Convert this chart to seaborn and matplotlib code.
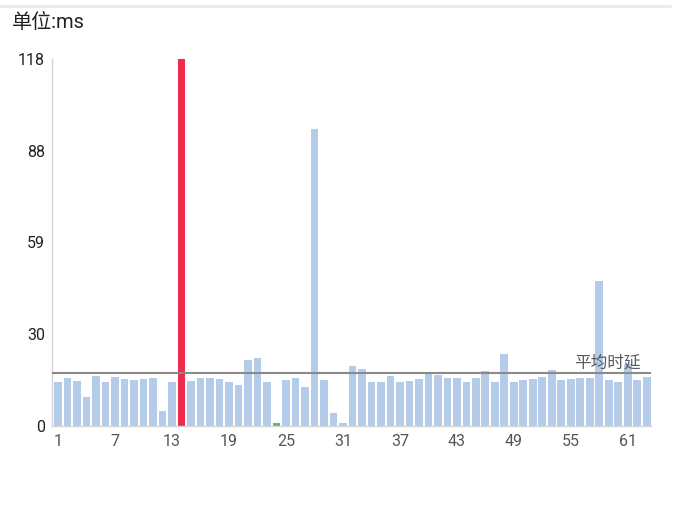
import matplotlib
matplotlib.use('Agg')
import matplotlib.pyplot as plt
from matplotlib.lines import Line2D
import seaborn as sns

# latency per request, ms
latency = [14.2, 15.5, 14.6, 9.4, 16.0, 14.2, 15.8, 15.1, 14.8, 15.1,
           15.5, 4.8, 14.2, 118.0, 14.4, 15.5, 15.3, 15.0, 14.2, 13.3,
           21.1, 21.8, 14.2, 1.0, 14.9, 15.5, 12.6, 95.5, 14.9, 4.2,
           1.1, 19.3, 18.2, 14.2, 14.2, 16.2, 14.0, 14.6, 15.2, 16.7,
           16.4, 15.5, 15.5, 14.2, 15.5, 17.7, 14.2, 23.0, 14.2, 14.8,
           15.1, 15.6, 17.9, 14.8, 15.1, 15.4, 15.5, 46.7, 14.8, 14.2,
           19.8, 14.8, 15.8]
requests = [str(i + 1) for i in range(len(latency))]
avg_latency = 16.9
y_ticks = [0, 29.5, 59, 88.5, 118]
y_labels = ['0', '30', '59', '88', '118']
x_labels = ['1', '7', '13', '19', '25', '31', '37', '43', '49', '55', '61']

BLUE = '#B4CCEA'
RED = '#EE2C4C'
GREEN = '#4CC46C'

vmax = max(latency)
vmin = min(latency)
palette = {}
for r, v in zip(requests, latency):
    if v == vmax:
        palette[r] = RED
    elif v == vmin:
        palette[r] = GREEN
    else:
        palette[r] = BLUE

sns.set_style('white')
plt.rcParams['font.family'] = ['Roboto', 'Noto Sans CJK SC', 'DejaVu Sans']

fig = plt.figure(figsize=(6.8, 5.26), dpi=100)
ax = fig.add_axes([52 / 680, 100 / 526, 599 / 680, 367 / 526])

sns.barplot(x=requests, y=latency, hue=requests, palette=palette,
            legend=False, width=0.8, saturation=1, linewidth=0, ax=ax)

ax.axhline(avg_latency, color='#8A8A8A', lw=1.5, zorder=5)
ax.text(0.983, avg_latency + 1.0, '平均时延', transform=ax.get_yaxis_transform(),
        ha='right', va='bottom', fontsize=12, color='#5A5A5A', zorder=6)

ax.set_xlim(-0.63, 62.45)
ax.set_ylim(0, 118)
ax.set_yticks(y_ticks)
ax.set_yticklabels(y_labels, fontsize=11.5, color='#222222')
ax.set_xticks([requests.index(l) for l in x_labels])
ax.set_xticklabels(x_labels, fontsize=11.5, color='#555555')
ax.tick_params(length=0, pad=6)
ax.tick_params(axis='y', pad=5)
ax.set_xlabel('')
ax.set_ylabel('')

for side in ['top', 'right']:
    ax.spines[side].set_visible(False)
for side in ['left', 'bottom']:
    ax.spines[side].set_color('#D5D5D5')
    ax.spines[side].set_linewidth(1)

fig.text(12 / 680, 1 - 22 / 526, '单位:ms', fontsize=14.5, color='#222222',
         ha='left', va='center')
fig.add_artist(Line2D([0, 0.985], [1 - 6 / 526, 1 - 6 / 526],
                      transform=fig.transFigure, color='#E9E9E9', lw=2))

fig.savefig('out.png', dpi=100)
